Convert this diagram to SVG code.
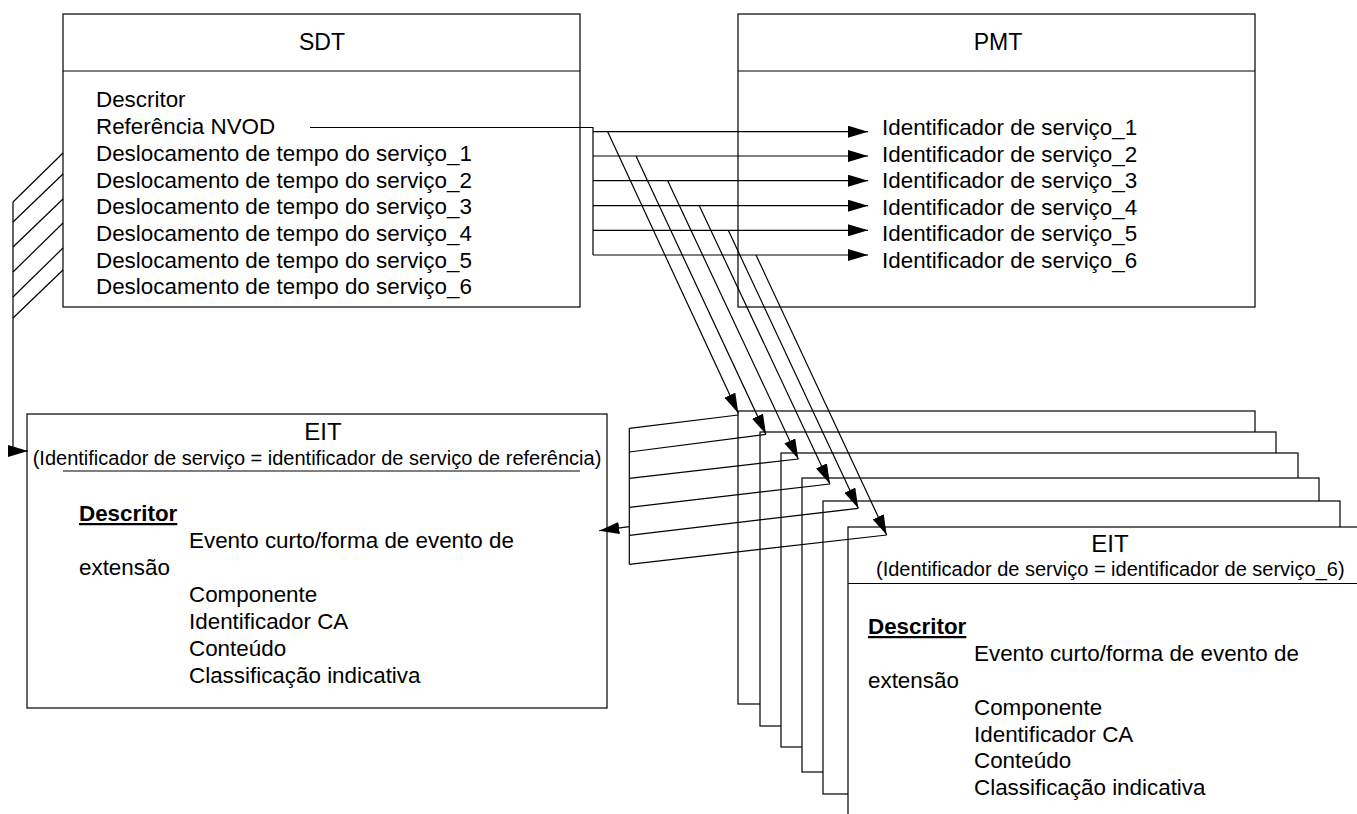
<svg xmlns="http://www.w3.org/2000/svg" width="1357" height="814" viewBox="0 0 1357 814">
<style>
  .box { fill: #fff; stroke: #000; stroke-width: 1.2; }
  .ln { fill: none; stroke: #000; stroke-width: 1.2; }
  .t { font-family: "Liberation Sans", Arial, sans-serif; font-size: 22.4px; fill: #000; }
  .title { font-family: "Liberation Sans", Arial, sans-serif; font-size: 23px; fill: #000; text-anchor: middle; }
  .eit { font-family: "Liberation Sans", Arial, sans-serif; font-size: 24px; fill: #000; text-anchor: middle; }
  .par { font-family: "Liberation Sans", Arial, sans-serif; font-size: 20px; fill: #000; }
  .bu { font-weight: bold; text-decoration: underline; }
</style>
<defs>
  <marker id="ah" viewBox="0 0 20 12" refX="20" refY="6" markerWidth="20" markerHeight="12" markerUnits="userSpaceOnUse" orient="auto">
    <path d="M0,0 L20,6 L0,12 z" fill="#000"/>
  </marker>
</defs>
<rect width="1357" height="814" fill="#fff"/>

<g id="sdt">
  <rect class="box" x="63" y="14" width="517" height="293"/>
  <line class="ln" x1="63" y1="71" x2="580" y2="71"/>
  <text class="title" x="322" y="50">SDT</text>
  <text class="t" x="96" y="107">Descritor</text>
  <text class="t" x="96" y="134">Referência NVOD</text>
  <text class="t" x="96" y="161">Deslocamento de tempo do serviço_1</text>
  <text class="t" x="96" y="187.5">Deslocamento de tempo do serviço_2</text>
  <text class="t" x="96" y="214">Deslocamento de tempo do serviço_3</text>
  <text class="t" x="96" y="241">Deslocamento de tempo do serviço_4</text>
  <text class="t" x="96" y="267.5">Deslocamento de tempo do serviço_5</text>
  <text class="t" x="96" y="294">Deslocamento de tempo do serviço_6</text>
</g>

<g id="pmt">
  <rect class="box" x="738" y="14" width="517" height="293"/>
  <line class="ln" x1="738" y1="71" x2="1255" y2="71"/>
  <text class="title" x="998" y="50">PMT</text>
  <text class="t" x="882" y="135">Identificador de serviço_1</text>
  <text class="t" x="882" y="161.5">Identificador de serviço_2</text>
  <text class="t" x="882" y="188">Identificador de serviço_3</text>
  <text class="t" x="882" y="214.5">Identificador de serviço_4</text>
  <text class="t" x="882" y="241">Identificador de serviço_5</text>
  <text class="t" x="882" y="268">Identificador de serviço_6</text>
</g>

<g id="eit-ref">
  <rect class="box" x="27" y="414" width="580" height="294"/>
  <text class="eit" x="323" y="440">EIT</text>
  <text class="par" x="317" y="465" text-anchor="middle">(Identificador de serviço = identificador de serviço de referência)</text>
  <line class="ln" x1="63" y1="471" x2="580" y2="471"/>
  <text class="t bu" x="79" y="521">Descritor</text>
  <text class="t" x="189" y="548">Evento curto/forma de evento de</text>
  <text class="t" x="79" y="575">extensão</text>
  <text class="t" x="189" y="602">Componente</text>
  <text class="t" x="189" y="629">Identificador CA</text>
  <text class="t" x="189" y="656">Conteúdo</text>
  <text class="t" x="189" y="683">Classificação indicativa</text>
</g>

<g id="eit-1"><rect class="box" x="738" y="411" width="517" height="293"/></g>
<g id="eit-2"><rect class="box" x="760" y="432" width="516" height="294"/></g>
<g id="eit-3"><rect class="box" x="781" y="453" width="517" height="294"/></g>
<g id="eit-4"><rect class="box" x="802" y="478" width="517" height="294"/></g>
<g id="eit-5"><rect class="box" x="823" y="501" width="517" height="293"/></g>
<g id="eit-6">
  <rect class="box" x="848" y="527" width="540" height="300"/>
  <text class="eit" x="1110" y="552">EIT</text>
  <text class="par" x="876" y="576">(Identificador de serviço = identificador de serviço_6)</text>
  <line class="ln" x1="848" y1="583.5" x2="1357" y2="583.5"/>
  <text class="t bu" x="868" y="634">Descritor</text>
  <text class="t" x="974" y="661">Evento curto/forma de evento de</text>
  <text class="t" x="868" y="688">extensão</text>
  <text class="t" x="974" y="714.5">Componente</text>
  <text class="t" x="974" y="741.5">Identificador CA</text>
  <text class="t" x="974" y="768">Conteúdo</text>
  <text class="t" x="974" y="795">Classificação indicativa</text>
</g>

<g id="connectors">
  <!-- SDT hatching to reference EIT -->
  <line class="ln" x1="63" y1="153" x2="13" y2="202"/>
  <line class="ln" x1="63" y1="174" x2="13" y2="222"/>
  <line class="ln" x1="63" y1="199" x2="13" y2="247"/>
  <line class="ln" x1="63" y1="223" x2="13" y2="272"/>
  <line class="ln" x1="63" y1="248" x2="13" y2="297"/>
  <line class="ln" x1="63" y1="270" x2="13" y2="318"/>
  <path class="ln" d="M13,202 V451 H28" marker-end="url(#ah)"/>

  <!-- NVOD reference bus -->
  <path class="ln" d="M310,127.5 H593 V255"/>
  <line class="ln" x1="593" y1="131.7" x2="868" y2="131.7" marker-end="url(#ah)"/>
  <line class="ln" x1="593" y1="156" x2="868" y2="156" marker-end="url(#ah)"/>
  <line class="ln" x1="593" y1="180.7" x2="868" y2="180.7" marker-end="url(#ah)"/>
  <line class="ln" x1="593" y1="205.7" x2="868" y2="205.7" marker-end="url(#ah)"/>
  <line class="ln" x1="593" y1="230.3" x2="868" y2="230.3" marker-end="url(#ah)"/>
  <line class="ln" x1="593" y1="255" x2="868" y2="255" marker-end="url(#ah)"/>

  <!-- diagonals to EIT stack -->
  <line class="ln" x1="607.7" y1="131.7" x2="738.3" y2="413.3" marker-end="url(#ah)"/>
  <line class="ln" x1="636" y1="156" x2="766" y2="434.3" marker-end="url(#ah)"/>
  <line class="ln" x1="667.7" y1="180.7" x2="798.3" y2="459" marker-end="url(#ah)"/>
  <line class="ln" x1="699.3" y1="205.7" x2="830" y2="484" marker-end="url(#ah)"/>
  <line class="ln" x1="728.3" y1="230.3" x2="858.3" y2="508.3" marker-end="url(#ah)"/>
  <line class="ln" x1="756" y1="255" x2="886.7" y2="535" marker-end="url(#ah)"/>

  <!-- returns from stack to reference EIT -->
  <line class="ln" x1="738.3" y1="415" x2="629.3" y2="428.3"/>
  <line class="ln" x1="766" y1="434.3" x2="629.3" y2="452"/>
  <line class="ln" x1="798.3" y1="459" x2="629.3" y2="478.3"/>
  <line class="ln" x1="830" y1="484" x2="629.3" y2="507.3"/>
  <line class="ln" x1="858.3" y1="508.3" x2="629.3" y2="535.3"/>
  <line class="ln" x1="886.7" y1="535" x2="629.3" y2="564.3"/>
  <line class="ln" x1="629.3" y1="428.3" x2="629.3" y2="564.3"/>
  <line class="ln" x1="629.3" y1="526.7" x2="599.3" y2="530.7" marker-end="url(#ah)"/>
</g>
</svg>
